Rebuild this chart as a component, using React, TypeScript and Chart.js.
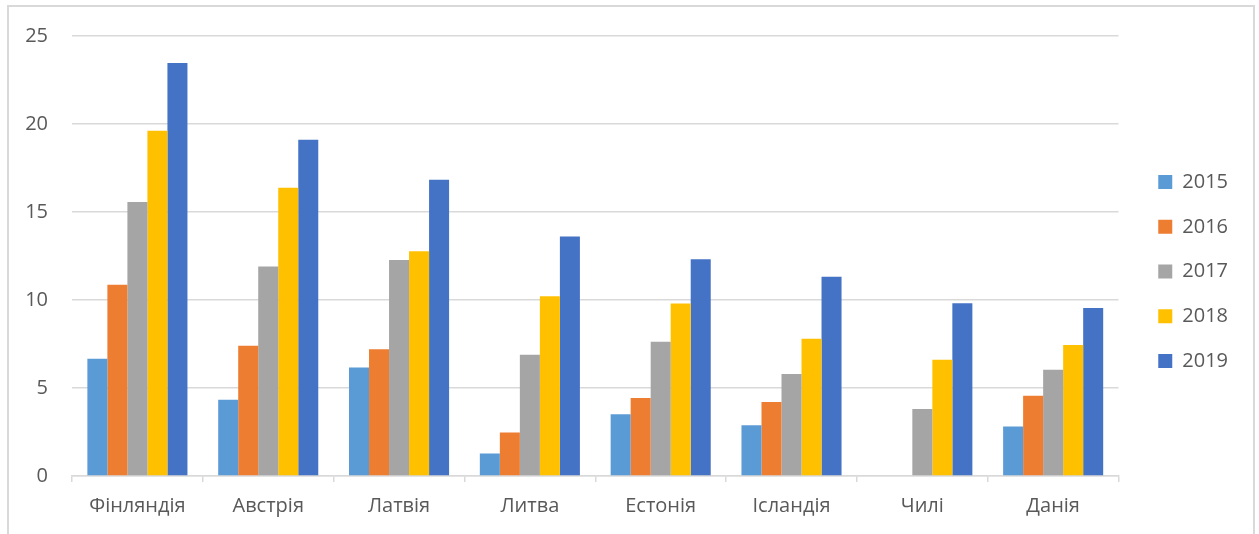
import React, { useEffect, useRef } from "react";
import { Chart, registerables } from "chart.js";

Chart.register(...registerables);

const categories = ["Фінляндія", "Австрія", "Латвія", "Литва", "Естонія", "Ісландія", "Чилі", "Данія"];
const seriesNames = ["2015", "2016", "2017", "2018", "2019"];
const values2015 = [6.66, 4.33, 6.17, 1.28, 3.51, 2.89, null, 2.81];
const values2016 = [10.87, 7.4, 7.2, 2.47, 4.43, 4.21, null, 4.56];
const values2017 = [15.57, 11.9, 12.27, 6.89, 7.63, 5.8, 3.8, 6.04];
const values2018 = [19.62, 16.38, 12.77, 10.21, 9.8, 7.8, 6.6, 7.45];
const values2019 = [23.47, 19.1, 16.83, 13.61, 12.31, 11.32, 9.82, 9.55];
const seriesColors = ["#5B9BD5", "#ED7D31", "#A5A5A5", "#FFC000", "#4472C4"];
const yTicks = [0, 5, 10, 15, 20, 25];

const FONT = "'Open Sans', 'Noto Sans', sans-serif";
const TEXT = "#595959";
const GRID = "#d9d9d9";

const framePlugin = {
  id: "frame",
  beforeDraw(chart: any) {
    const ctx = chart.ctx;
    ctx.save();
    ctx.fillStyle = "#ffffff";
    ctx.fillRect(0, 0, chart.width, chart.height);
    ctx.strokeStyle = GRID;
    ctx.lineWidth = 2;
    ctx.strokeRect(8, 6, 1246, 600);
    ctx.restore();
  },
};

export default function App() {
  const ref = useRef<HTMLCanvasElement | null>(null);
  useEffect(() => {
    if (!ref.current) return;
    const all = [values2015, values2016, values2017, values2018, values2019];
    const chart = new Chart(ref.current, {
      type: "bar",
      data: {
        labels: categories,
        datasets: seriesNames.map((name, i) => ({
          label: name,
          data: all[i],
          backgroundColor: seriesColors[i],
          borderWidth: 0,
          categoryPercentage: 0.765,
          barPercentage: 1,
        })),
      },
      options: {
        animation: false,
        responsive: false,
        devicePixelRatio: 1,
        layout: { padding: { top: 9, left: 0, right: 21, bottom: 0 } },
        plugins: {
          tooltip: { enabled: false },
          legend: {
            position: "right",
            align: "center",
            labels: {
              boxWidth: 14,
              boxHeight: 14,
              padding: 24.7,
              color: TEXT,
              font: { family: FONT, size: 20 },
            },
          },
        },
        scales: {
          x: {
            grid: {
              display: true,
              drawOnChartArea: false,
              drawTicks: true,
              tickLength: 6,
              color: GRID,
              lineWidth: 1.5,
              offset: true,
            },
            border: { display: true, color: GRID, width: 1.5 },
            ticks: { color: TEXT, font: { family: FONT, size: 20 }, padding: 12, maxRotation: 0, autoSkip: false },
            afterFit: (s: any) => {
              s.height = 58;
            },
          },
          topSpacer: {
            type: "linear",
            axis: "x",
            position: "top",
            display: true,
            grid: { display: false, drawTicks: false },
            border: { display: false },
            ticks: { display: false },
            afterFit: (s: any) => {
              s.height = 26;
            },
          },
          y: {
            min: 0,
            max: 25,
            afterBuildTicks: (s: any) => {
              s.ticks = yTicks.map((v) => ({ value: v }));
            },
            grid: { color: GRID, lineWidth: 1.5, drawTicks: false },
            border: { display: false },
            ticks: { color: TEXT, font: { family: FONT, size: 20 }, padding: 24 },
            afterFit: (s: any) => {
              s.width = 72;
            },
          },
          spacer: {
            type: "linear",
            axis: "y",
            position: "right",
            display: true,
            grid: { display: false, drawTicks: false },
            border: { display: false },
            ticks: { display: false },
            afterFit: (s: any) => {
              s.width = 15;
            },
          },
        },
      },
      plugins: [framePlugin],
    } as any);
    return () => chart.destroy();
  }, []);
  return (
    <div style={{ position: "fixed", left: 0, top: 0, width: 1259, height: 534 }}>
      <canvas ref={ref} width={1259} height={534} style={{ width: 1259, height: 534, display: "block" }} />
    </div>
  );
}
